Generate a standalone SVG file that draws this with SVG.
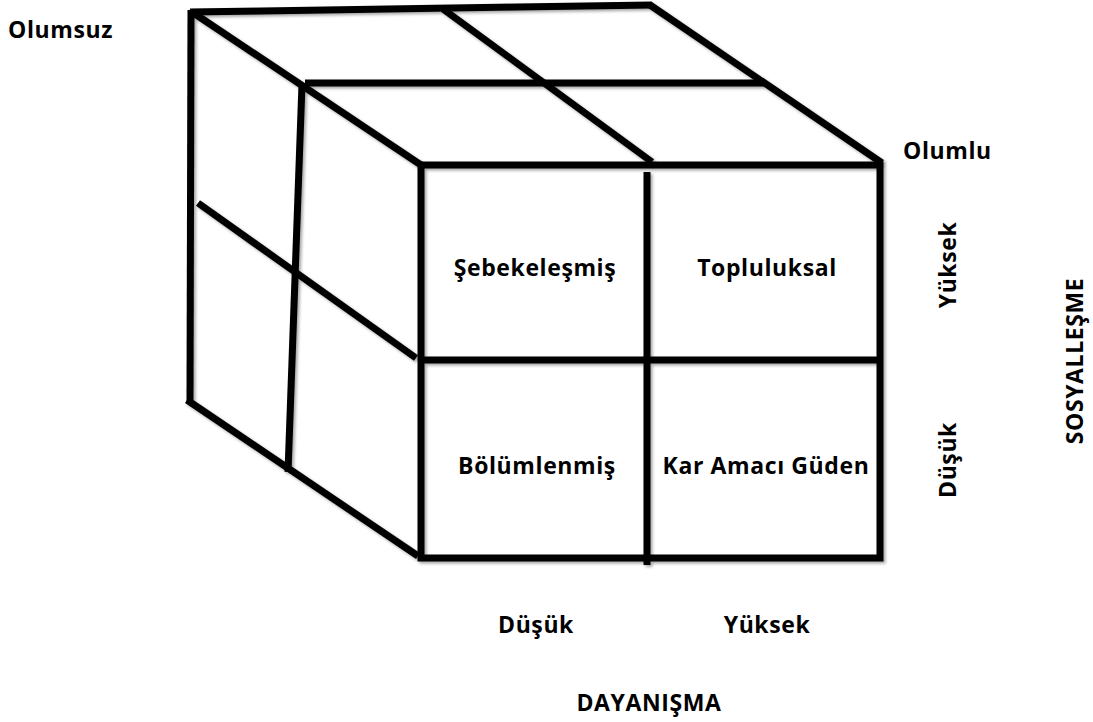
<svg xmlns="http://www.w3.org/2000/svg" width="1093" height="722" viewBox="0 0 1093 722">
<style>
.ln{stroke:#000;stroke-width:7;fill:none;stroke-linecap:butt;stroke-linejoin:miter}
.t{font-family:"Open Sans","Liberation Sans",sans-serif;font-weight:bold;font-size:23px;letter-spacing:0.6px;fill:#000}
</style>
<defs>
<filter id="sh" x="-5%" y="-5%" width="110%" height="110%">
<feDropShadow dx="2" dy="2" stdDeviation="1.5" flood-color="#000" flood-opacity="0.35"/>
</filter>
</defs>
<rect width="1093" height="722" fill="#fff"/>
<g id="connectors" filter="url(#sh)">
<line class="ln" x1="190" y1="12" x2="652" y2="5"/>
<line class="ln" x1="650" y1="5" x2="882" y2="163"/>
<line class="ln" x1="443" y1="9" x2="652" y2="162"/>
<line class="ln" x1="192" y1="12" x2="421" y2="165"/>
<line class="ln" x1="305" y1="83" x2="765" y2="83"/>
<line class="ln" x1="191" y1="10" x2="190" y2="402"/>
<line class="ln" x1="187" y1="400" x2="418" y2="556"/>
<line class="ln" x1="302" y1="84" x2="288" y2="472"/>
<line class="ln" x1="198" y1="203" x2="416" y2="358"/>
</g>
<g id="front" filter="url(#sh)">
<rect class="ln" x="421" y="165" width="459" height="393"/>
<line class="ln" x1="647" y1="172" x2="647" y2="565"/>
<line class="ln" x1="421" y1="360" x2="878" y2="360"/>
</g>
<g id="cell-sebekelesmis"><text class="t" x="535" y="276" text-anchor="middle">Şebekeleşmiş</text></g>
<g id="cell-topluluksal"><text class="t" x="767" y="276" text-anchor="middle">Topluluksal</text></g>
<g id="cell-bolumlenmis"><text class="t" x="537" y="474" text-anchor="middle">Bölümlenmiş</text></g>
<g id="cell-kar"><text class="t" x="766" y="474" text-anchor="middle">Kar Amacı Güden</text></g>
<g id="labels">
<text class="t" x="8" y="38">Olumsuz</text>
<text class="t" x="903" y="159">Olumlu</text>
<text class="t" transform="translate(956,265) rotate(-90)" text-anchor="middle">Yüksek</text>
<text class="t" transform="translate(956,460) rotate(-90)" text-anchor="middle">Düşük</text>
<text class="t" transform="translate(1083,361) rotate(-90)" text-anchor="middle">SOSYALLEŞME</text>
<text class="t" x="536" y="633" text-anchor="middle">Düşük</text>
<text class="t" x="767" y="633" text-anchor="middle">Yüksek</text>
<text class="t" x="649" y="711" text-anchor="middle">DAYANIŞMA</text>
</g>
</svg>
